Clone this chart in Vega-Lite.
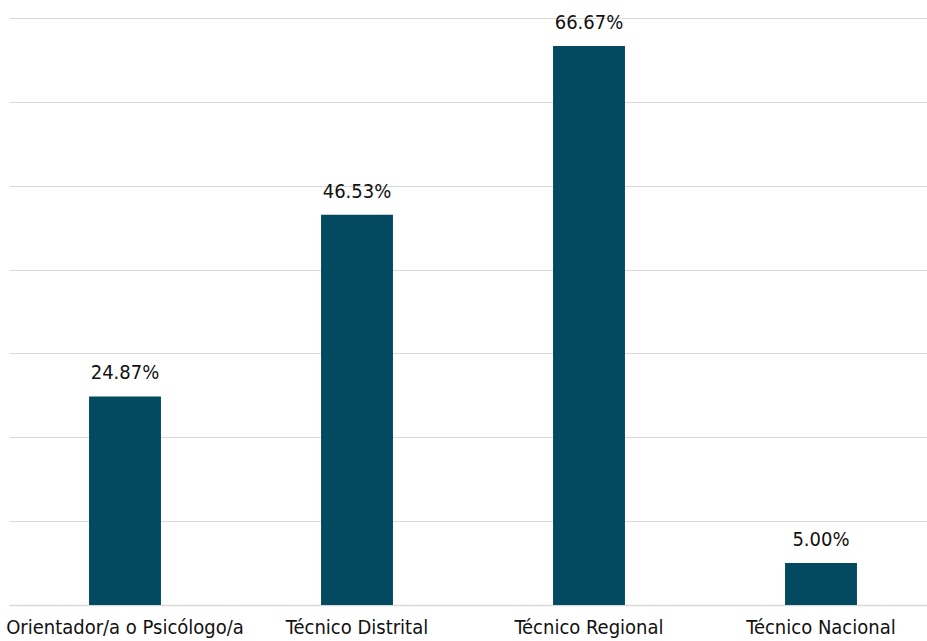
{
  "$schema": "https://vega.github.io/schema/vega-lite/v6.json",
  "autosize": "none",
  "width": 928,
  "height": 587,
  "padding": {"left": 9, "top": 18, "right": 0, "bottom": 36},
  "background": "white",
  "config": {
    "view": {"stroke": null},
    "font": "DejaVu Sans Condensed, Liberation Sans Narrow, sans-serif"
  },
  "data": {
    "values": [
      {"categoria": "Orientador/a o Psicólogo/a", "porcentaje": 0.2487},
      {"categoria": "Técnico Distrital", "porcentaje": 0.4653},
      {"categoria": "Técnico Regional", "porcentaje": 0.6667},
      {"categoria": "Técnico Nacional", "porcentaje": 0.05}
    ]
  },
  "encoding": {
    "x": {
      "field": "categoria",
      "type": "nominal",
      "sort": null,
      "scale": {"paddingInner": 0.69, "paddingOuter": 0.345},
      "axis": {
        "title": null,
        "labelAngle": 0,
        "labelFont": "DejaVu Sans Condensed, Liberation Sans Narrow, sans-serif",
        "labelFontSize": 20,
        "labelColor": "#111111",
        "labelPadding": 12,
        "ticks": false,
        "domain": true,
        "domainColor": "#d9d9d9",
        "domainWidth": 1.5,
        "labelOverlap": false,
        "labelLimit": 400
      }
    },
    "y": {
      "field": "porcentaje",
      "type": "quantitative",
      "scale": {"domain": [0, 0.7], "nice": false},
      "axis": {
        "title": null,
        "labels": false,
        "ticks": false,
        "domain": false,
        "grid": true,
        "gridColor": "#d9d9d9",
        "gridWidth": 1.2,
        "values": [0, 0.1, 0.2, 0.3, 0.4, 0.5, 0.6, 0.7]
      }
    }
  },
  "layer": [
    {"mark": {"type": "bar", "color": "#034A60"}},
    {
      "mark": {
        "type": "text",
        "font": "DejaVu Sans Condensed, Liberation Sans Narrow, sans-serif",
        "fontSize": 20,
        "color": "#111111",
        "baseline": "alphabetic",
        "dy": -17
      },
      "encoding": {
        "text": {"field": "porcentaje", "type": "quantitative", "format": ".2%"}
      }
    }
  ]
}
